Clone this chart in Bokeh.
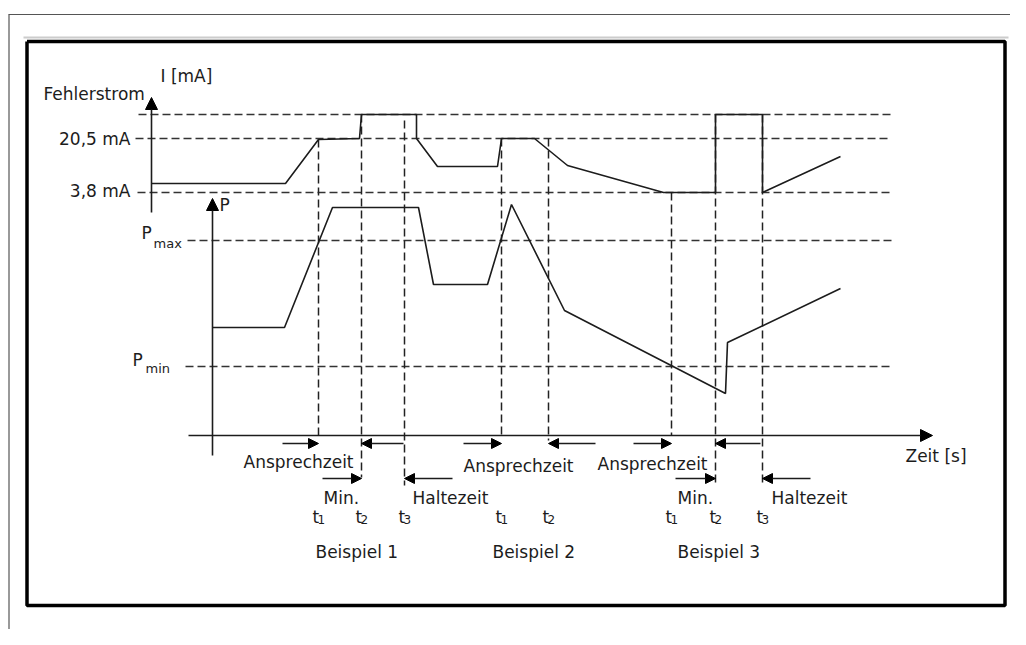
from bokeh.plotting import figure
from bokeh.models import Range1d, Arrow, NormalHead
from bokeh.core.properties import value
from bokeh.embed import file_html
from bokeh.resources import INLINE

# ---- data (diagram units: x = time from origin, y = level above time axis) ----
level_top = 321
level_20_5 = 297
level_3_8 = 243
level_pmax = 195
level_pmin = 69

current_t = [-61, 73, 106, 147, 149, 204, 204, 225, 285, 289, 322, 355, 451, 503, 503, 550, 550, 628]
current_v = [252, 252, 296, 297, 321, 321, 297, 269, 269, 297, 297, 270, 243, 243, 321, 321, 243, 279]

power_t = [0, 72, 120, 206, 221, 275, 299, 352, 513, 515, 628]
power_v = [108, 108, 228, 228, 151, 151, 231, 125, 42, 93, 147]

# event markers: x, top of dashed line, bottom of dashed line
event_x = [106, 149, 192, 289, 336, 459, 503, 550]
event_top = [296, 321, 315, 297, 297, 243, 321, 321]
event_bottom = [0, -42, -50, 0, -5, 0, -48, -47]
event_labels = ["1", "2", "3", "1", "2", "1", "2", "3"]

ref_levels = [level_top, level_20_5, level_3_8, level_pmax, level_pmin]
ref_start = [-74, -77, -75, -25, -27]
ref_end = [679, 679, 679, 679, 679]

example_names = ["Beispiel 1", "Beispiel 2", "Beispiel 3"]
example_x = [103, 280, 465]

FONT = value("DejaVu Sans")
INK = "#1c1c1c"

p = figure(width=1010, height=629, output_backend="svg", toolbar_location=None,
           x_range=Range1d(-212, 798), y_range=Range1d(-194, 435),
           x_axis_type=None, y_axis_type=None, min_border=0,
           min_border_left=0, min_border_right=0, min_border_top=0, min_border_bottom=0)
p.grid.visible = False
p.outline_line_color = None
p.background_fill_color = "white"
p.border_fill_color = "white"

# page edges and frame
p.line([-204, 806], [421, 421], line_color="#555555", line_width=1.2)
p.line([-203.5, -203.5], [421, -202], line_color="#555555", line_width=1.2)
p.line([-189, 796], [398, 398], line_color="#cccccc", line_width=2)
p.line([-185.5, 792.5, 792.5, -185.5, -185.5], [394, 394, -170, -170, 394],
       line_color="black", line_width=3.5)

# reference dashed levels
for lv, s, e in zip(ref_levels, ref_start, ref_end):
    p.line([s, e], [lv, lv], line_color="#333333", line_width=1.5, line_dash="8 4")

# event dashed verticals
for x, t, b in zip(event_x, event_top, event_bottom):
    p.line([x, x], [t, b], line_color="#222222", line_width=1.5, line_dash="8 4")

# signals
p.line(current_t, current_v, line_color=INK, line_width=1.6)
p.line(power_t, power_v, line_color=INK, line_width=1.6)

# axes with arrows
def arrow(x0, y0, x1, y1, size=11, lw=1.6):
    p.add_layout(Arrow(end=NormalHead(size=size, fill_color="black", line_color="black", line_width=1),
                       x_start=x0, y_start=y0, x_end=x1, y_end=y1,
                       line_color=INK, line_width=lw))

arrow(-61, 223, -61, 338, size=12)
arrow(0, -20, 0, 237, size=12)
arrow(-24, 0, 720, 0, size=12)

# timing arrows
arrow(70, -8, 106, -8, size=10)
arrow(191, -8, 149, -8, size=10)
arrow(251, -8, 289, -8, size=10)
arrow(383, -8, 336, -8, size=10)
arrow(421, -8, 459, -8, size=10)
arrow(548, -8, 503, -8, size=10)
arrow(110, -43, 149, -43, size=10)
arrow(240, -43, 192, -43, size=10)
arrow(463, -43, 503, -43, size=10)
arrow(598, -43, 550, -43, size=10)

def txt(xs, ys, texts, size="17px", align="left"):
    p.text(x=xs, y=ys, text=texts, text_font=FONT, text_font_size=size,
           text_baseline="middle", text_align=align, text_color=INK)

txt([-52], [360], ["I [mA]"])
txt([-169], [342], ["Fehlerstrom"])
txt([-82, -82], [297, 245], ["20,5 mA", "3,8 mA"], align="right")
txt([7], [231], ["P"])
txt([-71, -80], [203, 76], ["P", "P"])
txt([-59, -67], [192, 67], ["max", "min"], size="13px")
txt([693], [-20], ["Zeit [s]"])
txt([31, 251, 385], [-26, -30, -28], ["Ansprechzeit"] * 3)
txt([111, 465], [-62, -62], ["Min."] * 2)
txt([200, 559], [-62, -62], ["Haltezeit"] * 2)
txt([x - 6 for x in event_x], [-81] * len(event_x), ["t"] * len(event_x))
txt([x - 1 for x in event_x], [-84] * len(event_x), event_labels, size="12px")
txt(example_x, [-116] * 3, example_names)

open("out.html", "w").write(file_html(p, INLINE))
